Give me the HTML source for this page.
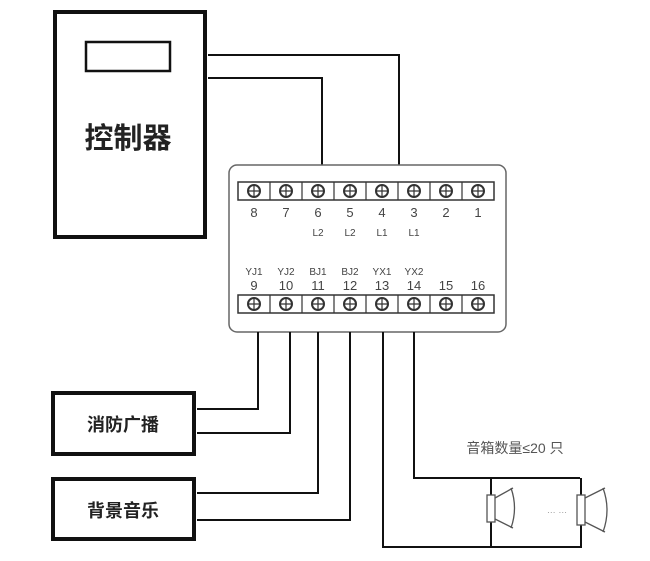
<!DOCTYPE html>
<html><head><meta charset="utf-8"><style>
html,body{margin:0;padding:0;background:#fff;}
svg{display:block;}
text{font-family:"Liberation Sans","Noto Sans CJK SC",sans-serif;}
</style></head><body>
<svg width="650" height="561" viewBox="0 0 650 561" xmlns="http://www.w3.org/2000/svg">
<rect width="650" height="561" fill="#fff"/>
<!-- controller -->
<rect x="55" y="12" width="150" height="225" fill="none" stroke="#111" stroke-width="4"/>
<rect x="86" y="42" width="84" height="29" fill="none" stroke="#111" stroke-width="2.5"/>
<text x="128" y="148" font-size="29" font-weight="bold" text-anchor="middle" fill="#222">控制器</text>
<!-- lines controller -> terminal -->
<polyline points="208,55 399,55 399,165" fill="none" stroke="#111" stroke-width="2"/>
<polyline points="208,78 322,78 322,165" fill="none" stroke="#111" stroke-width="2"/>
<!-- terminal box -->
<rect x="229" y="165" width="277" height="167" rx="8" fill="#fff" stroke="#666" stroke-width="1.5"/>
<g id="strips" stroke="#333" stroke-width="1.5" fill="none">
<rect x="238" y="182" width="256" height="18"/>
<rect x="238" y="295" width="256" height="18"/>
</g>
<g stroke="#333" stroke-width="1.2">
<line x1="270" y1="182" x2="270" y2="200"/><line x1="302" y1="182" x2="302" y2="200"/><line x1="334" y1="182" x2="334" y2="200"/><line x1="366" y1="182" x2="366" y2="200"/><line x1="398" y1="182" x2="398" y2="200"/><line x1="430" y1="182" x2="430" y2="200"/><line x1="462" y1="182" x2="462" y2="200"/>
<line x1="270" y1="295" x2="270" y2="313"/><line x1="302" y1="295" x2="302" y2="313"/><line x1="334" y1="295" x2="334" y2="313"/><line x1="366" y1="295" x2="366" y2="313"/><line x1="398" y1="295" x2="398" y2="313"/><line x1="430" y1="295" x2="430" y2="313"/><line x1="462" y1="295" x2="462" y2="313"/>
</g>
<g fill="#fff" stroke="#333" stroke-width="2">
<circle cx="254" cy="191" r="6"/><circle cx="286" cy="191" r="6"/><circle cx="318" cy="191" r="6"/><circle cx="350" cy="191" r="6"/><circle cx="382" cy="191" r="6"/><circle cx="414" cy="191" r="6"/><circle cx="446" cy="191" r="6"/><circle cx="478" cy="191" r="6"/>
<circle cx="254" cy="304" r="6"/><circle cx="286" cy="304" r="6"/><circle cx="318" cy="304" r="6"/><circle cx="350" cy="304" r="6"/><circle cx="382" cy="304" r="6"/><circle cx="414" cy="304" r="6"/><circle cx="446" cy="304" r="6"/><circle cx="478" cy="304" r="6"/>
</g>
<g stroke="#333" stroke-width="1.2">
<path d="M248 191h12M254 185v12M280 191h12M286 185v12M312 191h12M318 185v12M344 191h12M350 185v12M376 191h12M382 185v12M408 191h12M414 185v12M440 191h12M446 185v12M472 191h12M478 185v12"/>
<path d="M248 304h12M254 298v12M280 304h12M286 298v12M312 304h12M318 298v12M344 304h12M350 298v12M376 304h12M382 298v12M408 304h12M414 298v12M440 304h12M446 298v12M472 304h12M478 298v12"/>
</g>
<g font-size="13" fill="#444" text-anchor="middle">
<text x="254" y="217">8</text><text x="286" y="217">7</text><text x="318" y="217">6</text><text x="350" y="217">5</text><text x="382" y="217">4</text><text x="414" y="217">3</text><text x="446" y="217">2</text><text x="478" y="217">1</text>
<text x="254" y="290">9</text><text x="286" y="290">10</text><text x="318" y="290">11</text><text x="350" y="290">12</text><text x="382" y="290">13</text><text x="414" y="290">14</text><text x="446" y="290">15</text><text x="478" y="290">16</text>
</g>
<g font-size="10" fill="#444" text-anchor="middle">
<text x="318" y="236">L2</text><text x="350" y="236">L2</text><text x="382" y="236">L1</text><text x="414" y="236">L1</text>
<text x="254" y="275">YJ1</text><text x="286" y="275">YJ2</text><text x="318" y="275">BJ1</text><text x="350" y="275">BJ2</text><text x="382" y="275">YX1</text><text x="414" y="275">YX2</text>
</g>
<!-- bottom wires -->
<g fill="none" stroke="#111" stroke-width="2">
<polyline points="258,332 258,409 197,409"/>
<polyline points="290,332 290,433 197,433"/>
<polyline points="318,332 318,493 197,493"/>
<polyline points="350,332 350,520 197,520"/>
<polyline points="383,332 383,547 582,547"/>
<polyline points="414,332 414,478 580,478"/>
<line x1="491" y1="478" x2="491" y2="547"/>
<line x1="581" y1="478" x2="581" y2="547"/>
</g>
<!-- boxes -->
<rect x="53" y="393" width="141" height="61" fill="#fff" stroke="#111" stroke-width="4"/>
<text x="123" y="431" font-size="18" font-weight="bold" text-anchor="middle" fill="#222">消防广播</text>
<rect x="53" y="479" width="141" height="60" fill="#fff" stroke="#111" stroke-width="4"/>
<text x="123" y="517" font-size="18" font-weight="bold" text-anchor="middle" fill="#222">背景音乐</text>
<!-- speakers -->
<g fill="#fff" stroke="#555" stroke-width="1.3">
<rect x="487" y="495" width="8" height="27"/>
<path d="M495 498 L513 488 M495 519 L513 528"/>
<path d="M511 488 Q518 508 511 528" fill="none"/>
<rect x="577" y="495" width="8" height="30"/>
<path d="M585 498 L605 488 M585 522 L605 532"/>
<path d="M603 488 Q611 510 603 532" fill="none"/>
</g>
<text x="557" y="513" font-size="9" fill="#999" text-anchor="middle">… …</text>
<text x="515" y="453" font-size="14" fill="#555" text-anchor="middle">音箱数量≤20 只</text>
</svg>
</body></html>
